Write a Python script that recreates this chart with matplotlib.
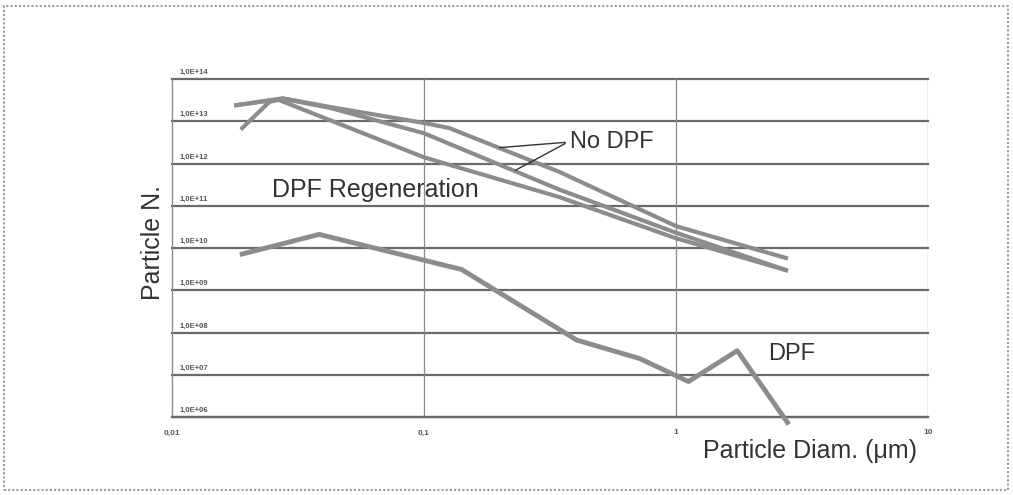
import numpy as np
import matplotlib
matplotlib.use("Agg")
import matplotlib.pyplot as plt
from matplotlib.patches import Rectangle

plt.rcParams['font.family'] = ['Liberation Sans', 'DejaVu Sans']

# particle size (um) and particle number
d_nodpf_a = [0.018, 0.0275, 0.042, 0.100, 0.126, 0.345, 1.0, 2.73]
n_nodpf_a = [2.4e13, 3.5e13, 2.2e13, 9.1e12, 6.9e12, 6.3e11, 3.3e10, 5.8e9]

d_nodpf_b = [0.018, 0.0275, 0.042, 0.100, 0.345, 1.0, 2.73]
n_nodpf_b = [2.4e13, 3.4e13, 2.1e13, 5.2e12, 2.4e11, 2.3e10, 3.0e9]

d_regen = [0.019, 0.0244, 0.0265, 0.100, 0.345, 1.0, 2.73]
n_regen = [6.9e12, 2.9e13, 3.2e13, 1.4e12, 1.6e11, 1.7e10, 3.0e9]

d_dpf = [0.019, 0.0384, 0.141, 0.404, 0.72, 1.12, 1.75, 2.77]
n_dpf = [7.2e9, 2.1e10, 3.1e9, 6.6e7, 2.4e7, 6.9e6, 3.7e7, 7.4e5]

ytick_vals = [1e6, 1e7, 1e8, 1e9, 1e10, 1e11, 1e12, 1e13, 1e14]
ytick_text = ['1,0E+06', '1,0E+07', '1,0E+08', '1,0E+09', '1,0E+10',
              '1,0E+11', '1,0E+12', '1,0E+13', '1,0E+14']
xtick_vals = [0.01, 0.1, 1, 10]
xtick_text = ['0,01', '0,1', '1', '10']

W, H = 1013, 495
fig = plt.figure(figsize=(W / 100, H / 100), dpi=100)
fig.patch.set_facecolor('white')

# outer frame of the picture
fig.patches.append(Rectangle((4 / W, 1 - 490 / H), 1004 / W, 484 / H,
                             transform=fig.transFigure, fill=False,
                             edgecolor='#9a9a9a', lw=1.5, ls=(0, (1, 1))))

ax = fig.add_axes([172 / W, 1 - 417 / H, 756 / W, 338 / H])
ax.set_xscale('log')
ax.set_yscale('log')
ax.set_xlim(0.01, 10)
ax.set_ylim(1e6, 1e14)

for v in ytick_vals:
    ax.axhline(v, color='#6a6a6a', lw=1.6, zorder=1, clip_on=False)
for v in [0.1, 1, 10]:
    ax.axvline(v, color='#8a8a8a', lw=0.9, zorder=1)

for s in ['top', 'right']:
    ax.spines[s].set_visible(False)
ax.spines['left'].set_color('#8a8a8a')
ax.spines['left'].set_linewidth(1.0)
ax.spines['bottom'].set_color('#6a6a6a')
ax.spines['bottom'].set_linewidth(1.6)

lc = '#8c8c8c'
ax.plot(d_nodpf_a, n_nodpf_a, color=lc, lw=3, solid_joinstyle='round', zorder=3)
ax.plot(d_nodpf_b, n_nodpf_b, color=lc, lw=3, solid_joinstyle='round', zorder=3)
ax.plot(d_regen, n_regen, color=lc, lw=3, solid_joinstyle='round', zorder=3)
ax.plot(d_dpf, n_dpf, color=lc, lw=3.5, solid_joinstyle='round', zorder=3,
        clip_on=False)

ax.set_yticks([])
ax.minorticks_off()
ax.tick_params(axis='y', which='both', left=False, labelleft=False)
ax.set_xticks(xtick_vals)
ax.set_xticklabels(xtick_text, fontsize=6, color='#555555', fontweight='bold')
ax.tick_params(axis='x', which='both', length=0, pad=9)

for v, t in zip(ytick_vals, ytick_text):
    ax.text(0.0107, v * 1.18, t, fontsize=5.5, color='#555555',
            fontweight='bold', ha='left', va='bottom')

ax.text(0.0249, 2.4e11, 'DPF Regeneration', fontsize=18, color='#333333',
        va='center', ha='left')
ax.text(0.379, 3.2e12, 'No DPF', fontsize=17, color='#333333',
        va='center', ha='left')
ax.text(2.33, 3.1e7, 'DPF', fontsize=17, color='#333333',
        va='center', ha='left')

ax.annotate('', xy=(0.195, 2.35e12), xytext=(0.372, 3.2e12),
            arrowprops=dict(arrowstyle='-', color='#333333', lw=1.0))
ax.annotate('', xy=(0.225, 6.4e11), xytext=(0.372, 3.2e12),
            arrowprops=dict(arrowstyle='-', color='#333333', lw=1.0))

fig.text(917 / W, 1 - 451 / H, 'Particle Diam. (\u03bcm)', fontsize=18,
         color='#333333', ha='right', va='center')
fig.text(153 / W, 1 - 243 / H, 'Particle N.', fontsize=18, color='#333333',
         ha='center', va='center', rotation=90)

fig.savefig('out.png', dpi=100)
